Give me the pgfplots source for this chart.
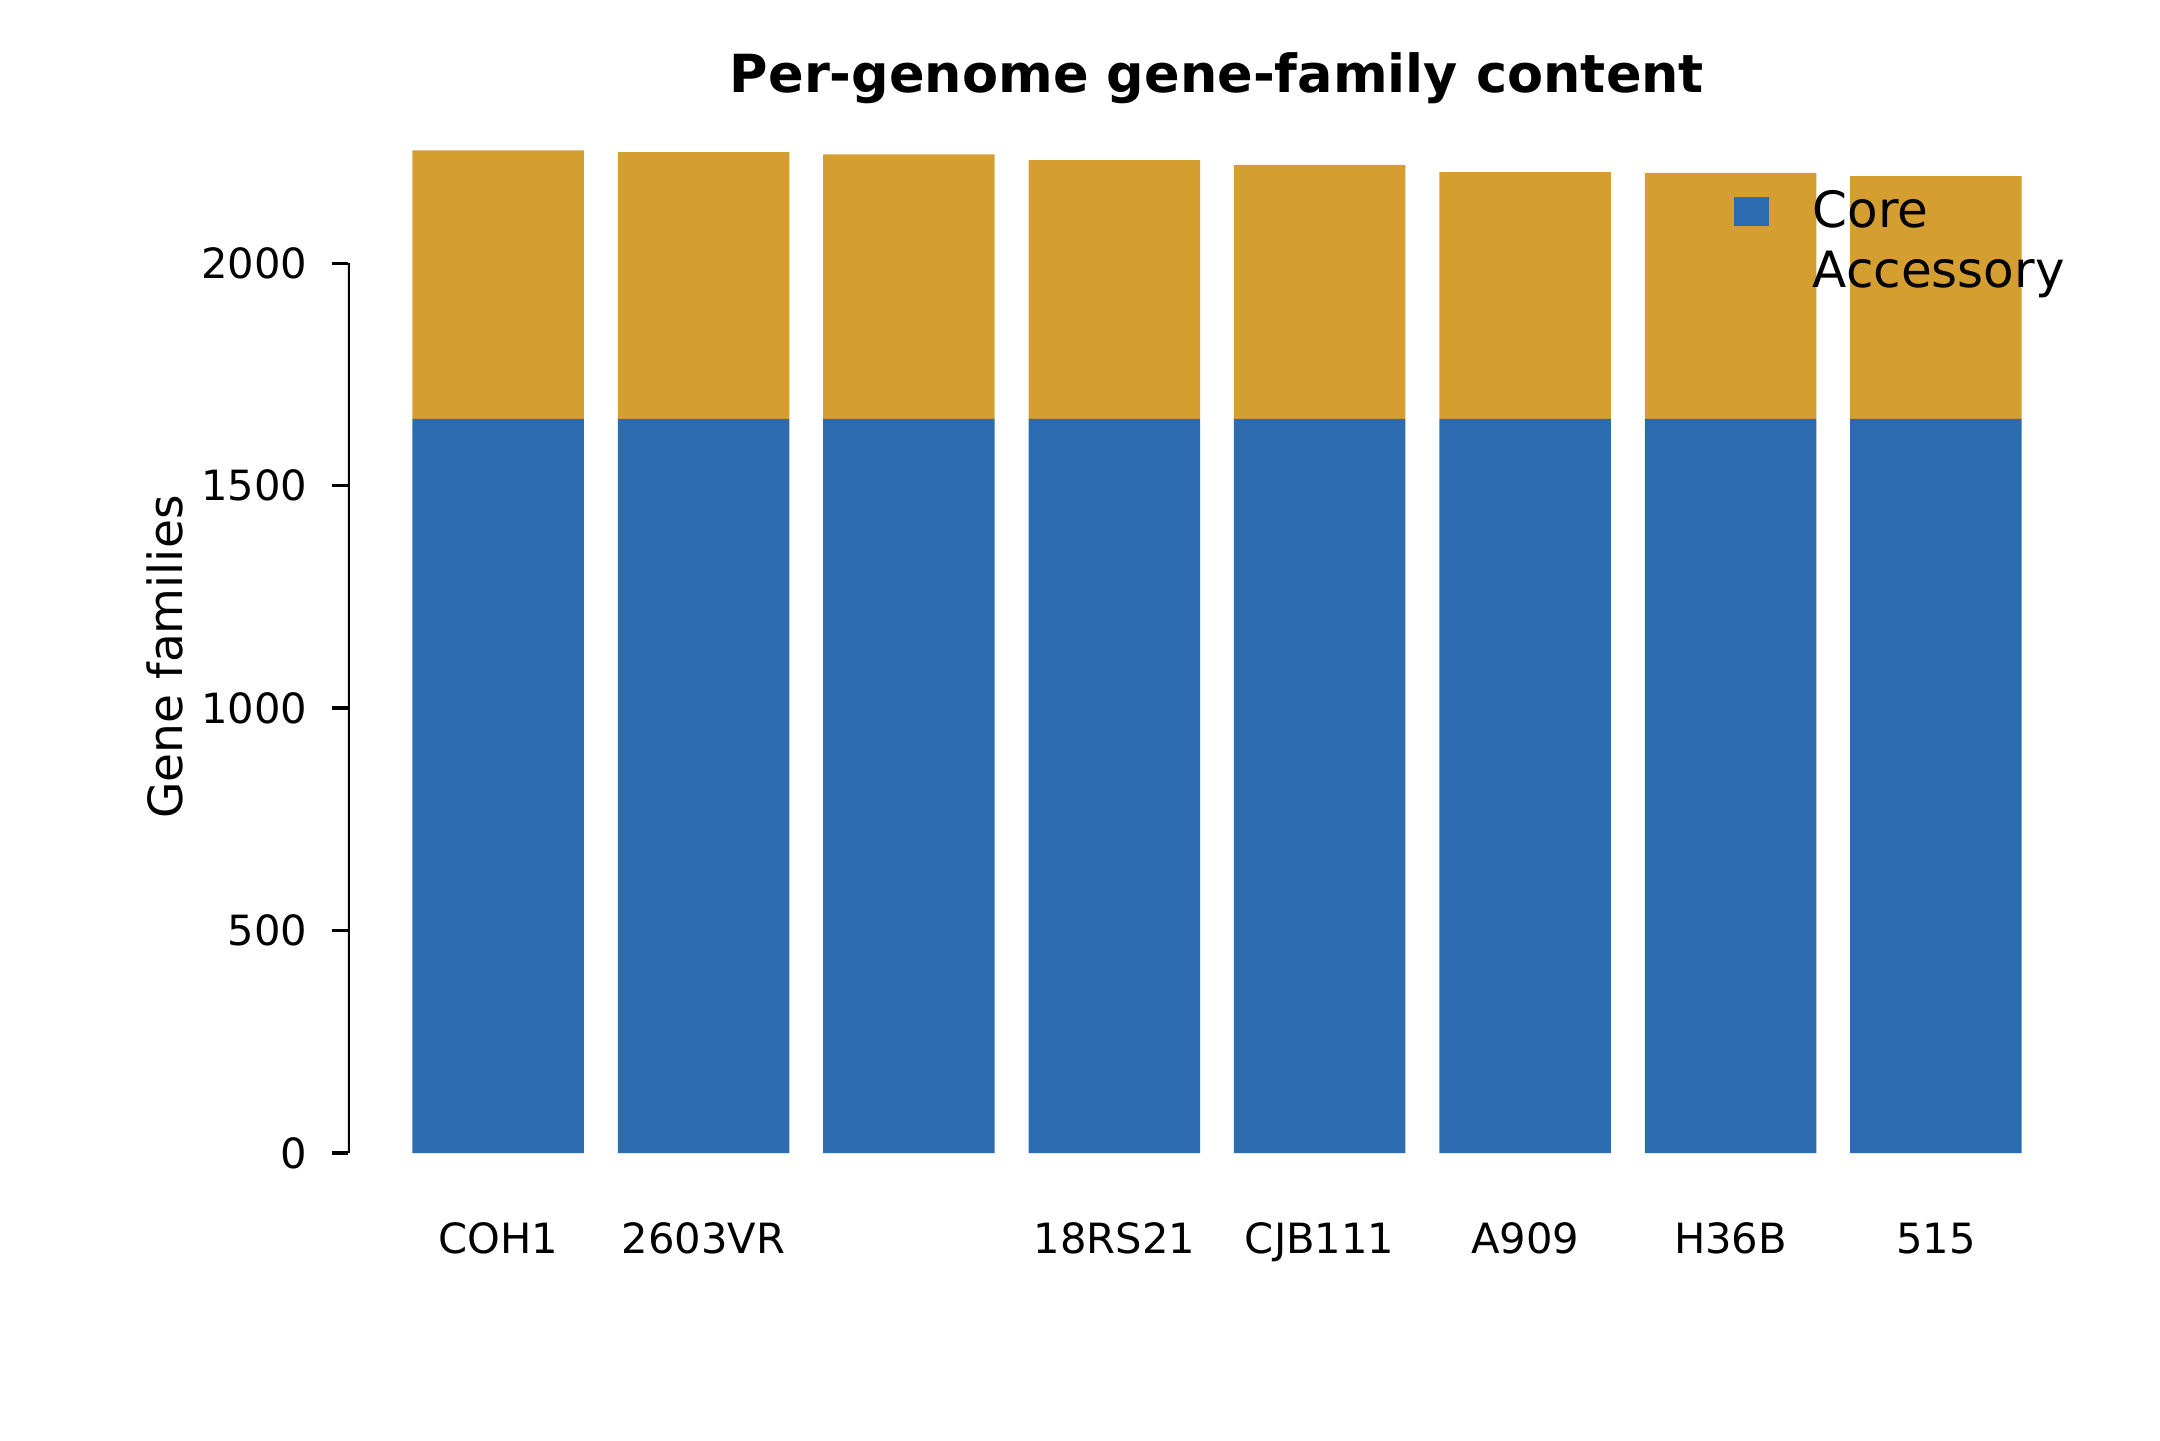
\documentclass[border=0pt]{standalone}
\usepackage{fontspec}
\setmainfont{DejaVu Sans}
\usepackage{pgfplots}
\pgfplotsset{compat=1.18}
\definecolor{corec}{RGB}{44,107,176}
\definecolor{accc}{RGB}{212,158,48}
\begin{document}
\begin{tikzpicture}
\begin{axis}[
  scale only axis,
  width=417.12pt, height=252.72pt,
  xmin=-0.731, xmax=7.731, ymin=0, ymax=2367,
  ybar stacked, bar width=0.835, bar shift=0pt,
  axis line style={draw=none},
  xtick={0,...,7},
  xticklabels={COH1,2603VR,{},18RS21,CJB111,A909,H36B,515},
  xtick style={draw=none},
  ytick={0,500,1000,1500,2000},
  ytick pos=left, tick align=outside,
  major tick length=3.8pt,
  ytick style={line width=0.8pt, black},
  /pgf/number format/assume math mode=true,
  /pgf/number format/1000 sep={},
  tick label style={font=\fontsize{10}{12}\selectfont},
  yticklabel style={inner sep=0pt, xshift=-5.8pt},
  xticklabel style={inner sep=0pt, yshift=-12.8pt},
  ylabel={Gene families},
  ylabel style={at={(axis description cs:-0.1053,0.471)}, anchor=center, font=\fontsize{11.3}{13}\selectfont},
  title={Per-genome gene-family content},
  title style={at={(axis description cs:0.5,1)}, anchor=center, yshift=-0.8pt, font=\bfseries\fontsize{12.6}{14}\selectfont},
  legend style={at={(axis description cs:0.797,0.923)}, anchor=north west, draw=none, fill=none, inner sep=0pt,
    font=\fontsize{12}{14.4}\selectfont, column sep=10pt,
    nodes={inner sep=0.5pt, text height=10.4pt, text depth=3pt}},
  legend cell align=left,
  legend image code/.code={\fill[#1] (0pt,-3.5pt) rectangle (8.4pt,3.5pt);},
]
\addplot[fill=corec, draw=none] coordinates {(0,1650) (1,1650) (2,1650) (3,1650) (4,1650) (5,1650) (6,1650) (7,1650)};
\addplot[fill=accc, draw=none] coordinates {(0,604) (1,600) (2,595) (3,582) (4,571) (5,555) (6,553) (7,546)};
\legend{Core,Accessory}
\draw[line width=0.8pt, black] (axis cs:-0.731,0) -- (axis cs:-0.731,2000);
\end{axis}
\pgfresetboundingbox
\path (-83.52pt,-68.88pt) rectangle (434.88pt,276.72pt);
\end{tikzpicture}
\end{document}
